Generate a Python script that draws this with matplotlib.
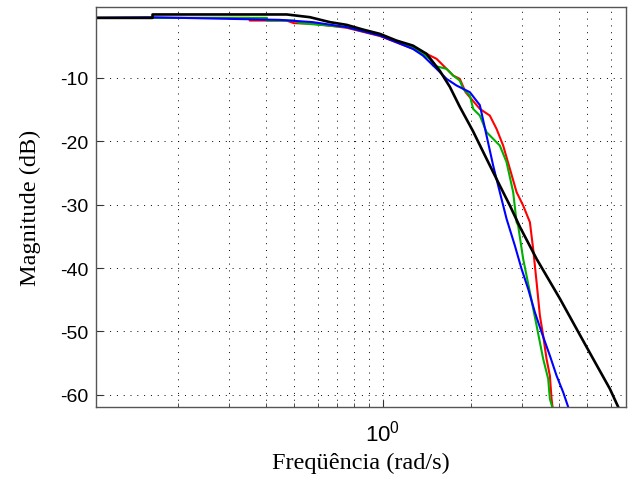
import numpy as np
import matplotlib.pyplot as plt
from matplotlib.ticker import LogLocator, NullFormatter, FixedLocator

# frequency (rad/s) and magnitude (dB)
w_black = [0.105, 0.164, 0.164, 0.471, 0.565, 0.661, 0.754, 0.857, 0.979, 1.116,
           1.269, 1.413, 1.569, 1.697, 1.835, 2.033, 2.265, 2.513, 2.720, 2.942,
           3.355, 4.033, 4.593, 5.233, 5.968, 6.37]
mag_black = [-0.54, -0.54, 0.0, 0.0, -0.43, -1.21, -1.64, -2.38, -3.06, -4.12,
             -4.91, -6.21, -8.90, -11.42, -14.57, -18.36, -22.78, -26.99, -30.14, -33.50,
             -38.55, -44.86, -49.59, -54.32, -59.05, -61.9]

w_blue = [0.105, 0.164, 0.446, 0.578, 0.754, 0.979, 1.269, 1.373, 1.529, 1.654,
          1.789, 1.986, 2.148, 2.264, 2.385, 2.513, 2.650, 2.828, 2.981, 3.140,
          3.310, 3.489, 3.724, 3.925, 4.135, 4.30]
mag_blue = [-0.54, -0.45, -0.85, -1.21, -2.00, -3.33, -5.43, -6.48, -8.58, -10.16,
            -11.21, -12.26, -14.3, -19.10, -23.83, -28.03, -32.24, -36.45, -40.13, -43.28,
            -46.96, -50.12, -53.81, -56.97, -59.59, -61.9]

w_red = [0.105, 0.352, 0.352, 0.47, 0.498, 0.578, 0.754, 0.979, 1.269, 1.413,
         1.529, 1.569, 1.697, 1.742, 1.835, 1.92, 2.148, 2.323, 2.449, 2.580,
         2.720, 2.867, 3.019, 3.183, 3.266, 3.355, 3.443, 3.533, 3.628, 3.724,
         3.774, 3.803]
mag_red = [-0.54, -0.54, -0.96, -0.96, -1.37, -1.45, -2.1, -3.4, -5.4, -6.21,
           -7.0, -7.52, -9.10, -9.64, -10.16, -12.26, -14.89, -15.95, -18.04, -20.68,
           -24.35, -28.03, -30.14, -32.76, -36.97, -42.22, -47.49, -50.65, -54.32, -56.96,
           -60.63, -61.9]

w_green = [0.105, 0.403, 0.403, 0.50, 0.522, 0.754, 0.979, 1.269, 1.450, 1.488,
           1.654, 1.742, 1.835, 1.884, 1.986, 2.038, 2.148, 2.264, 2.513, 2.650,
           2.791, 2.867, 2.902, 3.019, 3.183, 3.355, 3.533, 3.675, 3.724, 3.793]
mag_green = [-0.54, -0.54, -0.96, -0.96, -1.37, -2.0, -3.3, -5.11, -7.0, -8.06,
             -8.58, -9.64, -10.43, -11.74, -12.79, -14.89, -15.95, -18.56, -20.68, -23.30,
             -28.03, -32.76, -33.30, -38.55, -43.80, -49.07, -54.32, -57.47, -60.63, -61.9]

yticks = [-60, -50, -40, -30, -20, -10]

plt.rcParams['mathtext.fontset'] = 'custom'
plt.rcParams['mathtext.rm'] = 'Liberation Sans'

fig = plt.figure(figsize=(6.37, 4.81), dpi=100)
ax = fig.add_axes([0.150, 0.152, 0.832, 0.831])

ax.plot(w_red, mag_red, color=(1, 0, 0), lw=1.5)
ax.plot(w_green, mag_green, color=(0.0, 0.69, 0.0), lw=1.5)
ax.plot(w_blue, mag_blue, color=(0, 0, 1), lw=1.5)
ax.plot(w_black, mag_black, color='black', lw=1.9)

ax.set_xscale('log')
ax.set_xlim(0.1048, 6.75)
ax.set_ylim(-61.9, 1.15)
ax.set_yticks(yticks)
ax.set_yticklabels([str(v) for v in yticks], family='Liberation Sans', fontsize=14)
ax.xaxis.set_major_locator(FixedLocator([1.0]))
ax.xaxis.set_minor_locator(LogLocator(base=10, subs=np.arange(2, 10)))
ax.xaxis.set_minor_formatter(NullFormatter())
ax.set_xticklabels([r'$\mathregular{10^0}$'], fontsize=16, family='Liberation Sans')

dots = (0, (1, 6))
ax.grid(True, which='major', color='black', linestyle=dots, lw=0.7)
ax.grid(True, which='minor', axis='x', color='black', linestyle=dots, lw=0.7)
ax.tick_params(which='both', direction='in', color='#333333')
ax.tick_params(which='major', length=5)
ax.tick_params(which='minor', length=3)
ax.tick_params(axis='x', which='major', pad=9)
ax.tick_params(axis='y', which='major', pad=5)
for s in ax.spines.values():
    s.set_color('#555555')
    s.set_linewidth(1.0)

ax.set_xlabel('Freqüência (rad/s)', family='Liberation Serif', fontsize=17.5, labelpad=5)
ax.set_ylabel('Magnitude (dB)', family='Liberation Serif', fontsize=17.5, labelpad=14)

fig.savefig('out.png', dpi=100)
